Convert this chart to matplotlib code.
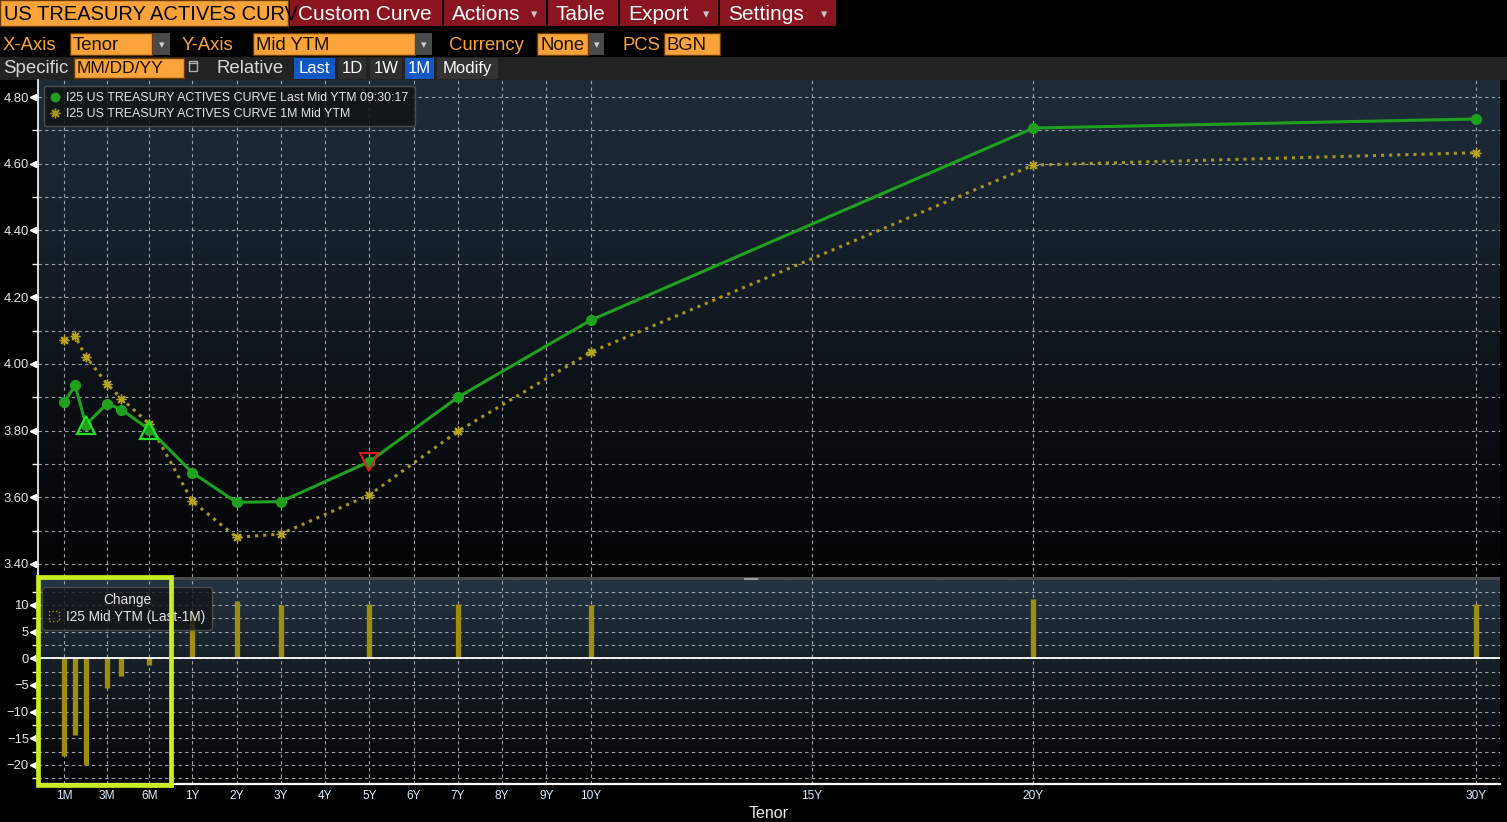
import numpy as np
import matplotlib.pyplot as plt
import matplotlib.transforms as mtransforms
from matplotlib.patches import Rectangle
from matplotlib.lines import Line2D
from matplotlib.colors import LinearSegmentedColormap

plt.rcParams['font.family'] = ['Liberation Sans', 'DejaVu Sans']

# ---- data ----
tenor_months = [1, 1.5, 2, 3, 4, 6, 12, 24, 36, 60, 84, 120, 240, 360]
ytm_last = [3.885, 3.936, 3.818, 3.881, 3.863, 3.803, 3.674, 3.585, 3.587, 3.707, 3.900, 4.131, 4.707, 4.734]
ytm_1m = [4.071, 4.083, 4.022, 3.939, 3.896, 3.820, 3.588, 3.480, 3.490, 3.607, 3.798, 4.035, 4.596, 4.633]
change_bp = [-18.4, -14.3, -20.1, -5.5, -3.25, -1.2, 8.6, 10.75, 10.0, 10.2, 10.2, 10.0, 11.1, 10.2]
signal_up = [2, 6]      # tenors (months) with green up triangles
signal_down = [60]      # tenors with red down triangle

tick_months = [1, 3, 6, 12, 24, 36, 48, 60, 72, 84, 96, 108, 120, 180, 240, 360]
tick_labels = ['1M', '3M', '6M', '1Y', '2Y', '3Y', '4Y', '5Y', '6Y', '7Y', '8Y', '9Y', '10Y', '15Y', '20Y', '30Y']

label1 = 'I25 US TREASURY ACTIVES CURVE Last Mid YTM 09:30:17'
label2 = 'I25 US TREASURY ACTIVES CURVE 1M Mid YTM'

# bloomberg-ish tenor axis: bills spaced by bucket, years linear
scale_m = [-24, 1, 3, 6, 12, 360, 480]
scale_p = [-14.0, -1.89, -0.92, 0.03, 1, 30, 40]


def fwd(m):
    return np.interp(m, scale_m, scale_p)


def inv(p):
    return np.interp(p, scale_p, scale_m)


W, H = 1507, 822
GREEN = '#1fa01f'
OLIVE = '#a8961a'
ORANGE = '#f9a33a'
GRID = '#a0a4aa'


def fig_rect(x0, y0, x1, y1):
    return [x0 / W, 1 - y1 / H, (x1 - x0) / W, (y1 - y0) / H]


fig = plt.figure(figsize=(W / 100, H / 100), dpi=100)
fig.patch.set_facecolor('black')

# ---- background / toolbar layer ----
ui = fig.add_axes([0, 0, 1, 1], zorder=0)
ui.axis('off')

grad = np.linspace(0, 1, 256).reshape(-1, 1)
cm_top = LinearSegmentedColormap.from_list('t', ['#1e2c3a', '#16202a', '#0b0f14', '#030303'])
cm_bot = LinearSegmentedColormap.from_list('b', ['#243443', '#131a21', '#050505'])
ui.imshow(grad, cmap=cm_top, extent=(38, 1500, 577, 80), aspect='auto', origin='upper')
ui.imshow(grad, cmap=cm_bot, extent=(38, 1500, 784, 580), aspect='auto', origin='upper')
ui.add_patch(Rectangle((38, 577), 1462, 3, fc='#4a4a4a', ec='none'))
ui.add_patch(Rectangle((744, 578), 14, 1.5, fc='#9a9a9a', ec='none'))
ui.set_xlim(0, W)
ui.set_ylim(H, 0)

# row 1
r = Rectangle((0, 0), 288, 26, fc=ORANGE, ec='#6b3a00', lw=1)
ui.add_patch(r)
t = ui.text(4, 14.5, 'US TREASURY ACTIVES CURV', color='black', fontsize=14.5, va='center')
t.set_clip_path(r)
for x0, x1, lab, arrow in [(290, 442, 'Custom Curve', False), (444, 546, 'Actions', True),
                           (548, 618, 'Table', False), (620, 718, 'Export', True),
                           (720, 836, 'Settings', True)]:
    ui.add_patch(Rectangle((x0, 0), x1 - x0, 26, fc='#8a1420', ec='none'))
    ui.text(x0 + 8, 14.5, lab, color='white', fontsize=15, va='center')
    if arrow:
        ui.text(x1 - 12, 15, '▾', color='#c8c8c8', fontsize=9, va='center', ha='center',
                family='DejaVu Sans')

# row 2
for x, lab in [(3, 'X-Axis'), (182, 'Y-Axis'), (449, 'Currency'), (622, 'PCS')]:
    ui.text(x, 45.5, lab, color=ORANGE, fontsize=13.3, va='center')
for x0, x1, lab, dd in [(70, 152, 'Tenor', 170), (253, 415, 'Mid YTM', 432),
                        (537, 588, 'None', 604), (664, 720, 'BGN', None)]:
    ui.add_patch(Rectangle((x0, 33), x1 - x0, 22, fc=ORANGE, ec='#6b3a00', lw=1))
    ui.text(x0 + 3, 45.5, lab, color='#1a1000', fontsize=13.3, va='center')
    if dd:
        ui.add_patch(Rectangle((x1 + 1, 33), dd - x1 - 1, 22, fc='#4a4a4a', ec='none'))
        ui.text((x1 + dd) / 2 + 0.5, 45, '▾', color='#d0d0d0', fontsize=8, va='center',
                ha='center', family='DejaVu Sans')

# row 3
ui.add_patch(Rectangle((0, 57), W, 23, fc='#222222', ec='none'))
ui.text(3, 68.5, 'Specific', color='#d8d8d8', fontsize=13.4, va='center')
ui.add_patch(Rectangle((74, 58), 110, 20, fc=ORANGE, ec='#6b3a00', lw=1))
ui.text(77, 68.5, 'MM/DD/YY', color='#1a1000', fontsize=12.5, va='center')
ui.add_patch(Rectangle((189, 61), 8, 10, fc='none', ec='#b0b0b0', lw=1))
ui.plot([189, 197], [63.5, 63.5], color='#b0b0b0', lw=1)
ui.text(216, 68.5, 'Relative', color='#d8d8d8', fontsize=13.4, va='center')
for x0, x1, lab, fc in [(294, 335, 'Last', '#1258c4'), (338, 366, '1D', '#2e2e2e'),
                        (370, 402, '1W', '#2e2e2e'), (405, 434, '1M', '#1258c4'),
                        (437, 498, 'Modify', '#333333')]:
    ui.add_patch(Rectangle((x0, 58), x1 - x0, 21, fc=fc, ec='none'))
    ui.text((x0 + x1) / 2, 68.5, lab, color='white', fontsize=12, va='center', ha='center')

# ---- chart axes ----
ax1 = fig.add_axes(fig_rect(38, 80, 1500, 577), zorder=2)
ax2 = fig.add_axes(fig_rect(38, 580, 1500, 784), zorder=2, sharex=ax1)
for ax in (ax1, ax2):
    ax.set_facecolor('none')
ax1.set_xscale('function', functions=(fwd, inv))
ax1.set_xlim(inv(-2.486), inv(30.54))

ax1.plot(tenor_months, ytm_1m, color=OLIVE, ls=':', lw=2.2, marker=(8, 2, 0), ms=7,
         mec='#b8a420', mew=1, zorder=3)
ax1.plot(tenor_months, ytm_last, color=GREEN, lw=2.2, marker='o', ms=7, zorder=4)
up_y = [ytm_last[tenor_months.index(m)] for m in signal_up]
dn_y = [ytm_last[tenor_months.index(m)] for m in signal_down]
ax1.plot(signal_up, up_y, ls='none', marker='^', ms=13, mfc='none', mec='#25e025', mew=1.6, zorder=5)
ax1.plot(signal_down, dn_y, ls='none', marker='v', ms=13, mfc='none', mec='#e01c1c', mew=1.4, zorder=5)

ax1.set_ylim(3.361, 4.851)
ax1.set_yticks(np.arange(3.4, 4.81, 0.2))
ax1.set_yticks(np.arange(3.5, 4.81, 0.2), minor=True)
ax1.set_yticklabels(['%.2f' % v for v in np.arange(3.4, 4.81, 0.2)])

ax2.vlines(tenor_months, 0, change_bp, color='#9e8e10', lw=3.8, zorder=3)
ax2.axhline(0, color='white', lw=1.3, zorder=4)
ax2.set_ylim(-23.57, 14.68)
ax2.set_yticks([10, 5, 0, -5, -10, -15, -20])
ax2.set_yticks(np.arange(-22.5, 14, 5), minor=True)

ax1.set_xticks(tick_months)
ax1.set_xticks([], minor=True)
ax2.set_xticklabels(tick_labels)
ax1.tick_params(axis='x', labelbottom=False, length=0)
ax2.tick_params(axis='x', length=0, pad=4, labelsize=8.6, labelcolor='#d8ecff')
ax2.set_xlabel('Tenor', color='#e8e8e8', fontsize=11.5, labelpad=3)

for ax in (ax1, ax2):
    ax.grid(True, which='both', color=GRID, ls=(0, (3, 3)), lw=0.8)
    ax.set_axisbelow(True)
    ax.tick_params(axis='y', which='major', length=0, pad=6.5, labelsize=9.4, labelcolor='#e6e6e6')
    ax.tick_params(axis='y', which='minor', length=4, width=1, color='white')
    for s in ax.spines.values():
        s.set_visible(False)
    tr = mtransforms.blended_transform_factory(ax.transAxes, ax.transData)
    yt = ax.get_yticks()
    ax.plot(np.full(len(yt), -0.0035), yt, ls='none', marker='<', ms=4.5, color='white',
            transform=tr, clip_on=False)
    ax.plot(np.full(len(yt), -0.0025), yt, ls='none', marker='_', ms=6, mew=1, color='white',
            transform=tr, clip_on=False)

ax1.spines['left'].set_visible(True)
ax1.spines['left'].set_color('white')
ax1.spines['left'].set_linewidth(1.2)
ax2.spines['bottom'].set_visible(True)
ax2.spines['bottom'].set_color('white')
ax2.spines['bottom'].set_linewidth(1.6)

handles = [Line2D([], [], color=GREEN, marker='o', ls='none', ms=6),
           Line2D([], [], color=OLIVE, marker=(8, 2, 0), ls='none', ms=7)]
leg = ax1.legend(handles, [label1, label2], loc='upper left', bbox_to_anchor=(0.004, 0.988),
                 frameon=True, facecolor='#111418', edgecolor='#555555', fontsize=8.9,
                 labelcolor='#e6e6e6', handlelength=0.8, handletextpad=0.5, borderpad=0.5,
                 labelspacing=0.3, borderaxespad=0)
leg.get_frame().set_alpha(0.85)

leg2 = ax2.legend([Rectangle((0, 0), 1, 1, fc='none', ec=OLIVE, ls=':')], ['I25 Mid YTM (Last-1M)'],
                  title='Change', loc='upper left', bbox_to_anchor=(0.003, 0.965), frameon=True,
                  facecolor='#111418', edgecolor='#555555', fontsize=9.8, title_fontsize=9.8,
                  labelcolor='#e6e6e6', handlelength=0.8, handleheight=0.8, handletextpad=0.5,
                  borderpad=0.45, labelspacing=0.2, borderaxespad=0)
leg2.get_title().set_color('#e6e6e6')
leg2.get_frame().set_alpha(0.8)

# ---- highlight box on top ----
top = fig.add_axes([0, 0, 1, 1], zorder=6)
top.set_xlim(0, W)
top.set_ylim(H, 0)
top.axis('off')
top.add_patch(Rectangle((38, 577), 133, 208, fc='none', ec='#c8ee22', lw=3.4))

fig.savefig('out.png', dpi=100, facecolor='black')
